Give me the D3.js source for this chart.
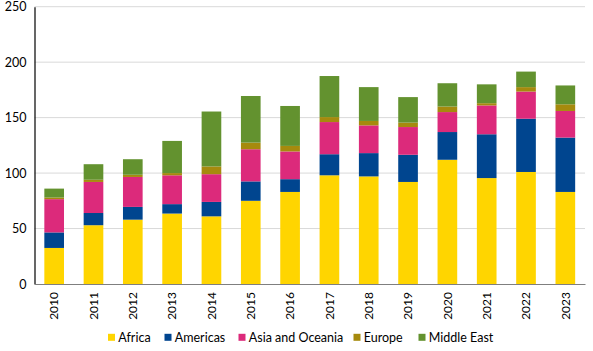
<!DOCTYPE html>
<html><head><meta charset="utf-8">
<script src="https://cdn.jsdelivr.net/npm/d3@7"></script>
<style>body{margin:0;background:#fff;}svg{display:block;font-family:Lato,"Open Sans",sans-serif;}</style>
</head><body>
<svg id="c" width="593" height="351"></svg>
<script>
const years = ["2010","2011","2012","2013","2014","2015","2016","2017","2018","2019","2020","2021","2022","2023"];
const seriesNames = ["Africa","Americas","Asia and Oceania","Europe","Middle East"];
const africa   = [32.5,53,58,63.5,61,75,83,98,97,92,112,95.5,101,83];
const americas = [14,11,11.5,8.5,13,17.5,11.5,19,21,24.5,25,39.5,48,49];
const asia     = [30,28,27,26,25,29,25,29,25,25,18,26,24.5,24];
const europe   = [1.5,2,2,2,7,6,5,4.5,4,4,5,2,4,6];
const middleEast = [8,14,14,29,49.5,42,36,37,30.5,23,21,17,14,17];
const yTicks = [0,50,100,150,200,250];
const colors = ["#FFD500","#00458F","#DC2A7B","#A68A0D","#63922F"];

const svg = d3.select("#c");
const m = {l:34.5, r:8, t:6.7, b:67};
const W = 593, H = 351;
const x = d3.scaleBand().domain(years).range([m.l, W-m.r]).paddingInner(0.5).paddingOuter(0.25);
const y = d3.scaleLinear().domain([0,250]).range([284, 6.7]);

const table = years.map((yr,i)=>({year:yr, "Africa":africa[i], "Americas":americas[i], "Asia and Oceania":asia[i], "Europe":europe[i], "Middle East":middleEast[i]}));
const stack = d3.stack().keys(seriesNames)(table);

// gridlines
svg.append("g").selectAll("line").data(yTicks.filter(d=>d>0)).join("line")
  .attr("x1", m.l).attr("x2", W-m.r)
  .attr("y1", d=>y(d)).attr("y2", d=>y(d))
  .attr("stroke","#d9d9d9").attr("stroke-width",1);

// bars
svg.append("g").selectAll("g").data(stack).join("g")
  .attr("fill",(d,i)=>colors[i])
  .selectAll("rect").data(d=>d).join("rect")
  .attr("x", d=>x(d.data.year))
  .attr("width", x.bandwidth())
  .attr("y", d=>y(d[1]))
  .attr("height", d=>Math.max(0, y(d[0])-y(d[1])));

// y axis
const ya = svg.append("g").attr("transform",`translate(${m.l},0)`)
  .call(d3.axisLeft(y).tickValues(yTicks).tickSize(0).tickPadding(8));
ya.select(".domain").attr("stroke","#000").attr("stroke-width",1.2);
ya.selectAll("text").attr("font-size","12.5px").attr("fill","#000").attr("font-family","Lato, sans-serif");

// x axis
const xa = svg.append("g").attr("transform",`translate(0,${y(0)})`)
  .call(d3.axisBottom(x).tickSize(0));
xa.select(".domain").attr("stroke","#7f7f7f").attr("stroke-width",1.2);
xa.selectAll("text")
  .attr("font-size","12px").attr("fill","#000").attr("font-family","Lato, sans-serif")
  .attr("transform","rotate(-90)")
  .attr("text-anchor","end")
  .attr("dy","0.35em")
  .attr("x",-8).attr("y",0);

// legend
const legendX = [108, 164.5, 238.5, 353.5, 418.5];
const lg = svg.append("g").selectAll("g").data(seriesNames).join("g")
  .attr("transform",(d,i)=>`translate(${legendX[i]},337.3)`);
lg.append("rect").attr("x",0).attr("y",-3.5).attr("width",7).attr("height",7).attr("fill",(d,i)=>colors[i]);
lg.append("text").attr("x",10.3).attr("y",0).attr("dy","0.35em")
  .attr("font-size","12.5px").attr("fill","#000").text(d=>d);
</script>
</body></html>
